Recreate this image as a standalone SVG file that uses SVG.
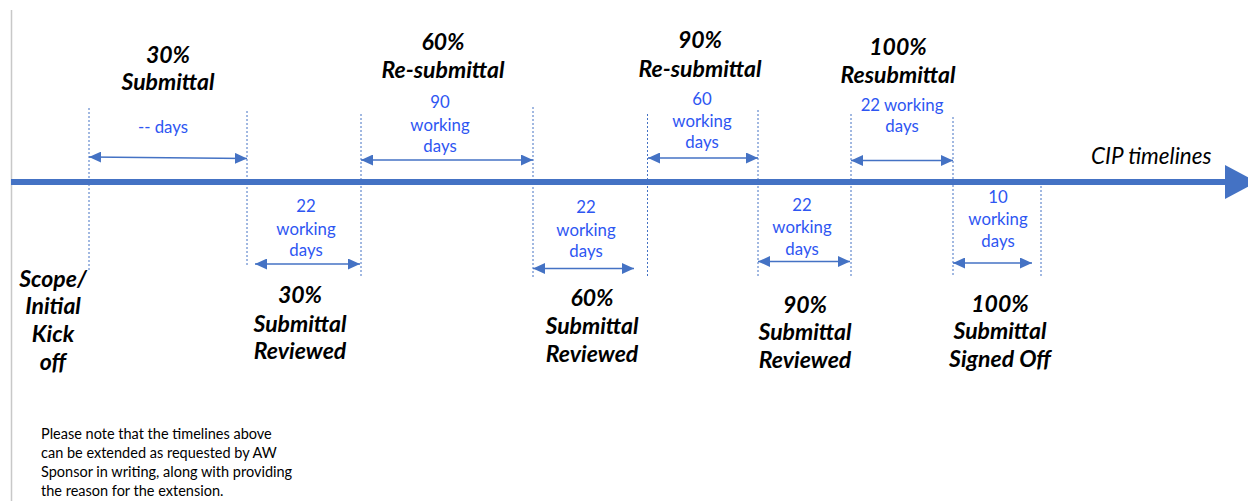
<svg xmlns="http://www.w3.org/2000/svg" width="1248" height="501" viewBox="0 0 1248 501">
<style>
.lbl{font-family:Lato,"Liberation Sans",sans-serif;font-weight:bold;font-style:italic;font-size:23px;fill:#000;text-anchor:middle}
.dur{font-family:Lato,"Liberation Sans",sans-serif;font-size:16.8px;fill:#2E56F2;text-anchor:middle}
.cip{font-family:Lato,"Liberation Sans",sans-serif;font-style:italic;font-size:22.5px;fill:#000}
.note{font-family:Lato,"Liberation Sans",sans-serif;font-size:14.5px;fill:#000}
.dash{stroke:#4472C4;stroke-width:1;stroke-dasharray:2 2;fill:none}
.span{stroke:#4472C4;stroke-width:1.5;fill:none;marker-start:url(#ah);marker-end:url(#ah)}
</style>
<defs>
<marker id="ah" markerWidth="12" markerHeight="11" refX="12" refY="5.5" orient="auto-start-reverse" markerUnits="userSpaceOnUse">
<path d="M0,0 L12,5.5 L0,11 z" fill="#4472C4"/>
</marker>
</defs>
<rect width="1248" height="501" fill="#fff"/>
<line x1="11.5" y1="10" x2="11.5" y2="501" stroke="#C8C8C8" stroke-width="1.5"/>
<g id="axis">
<line x1="11" y1="182" x2="1227" y2="182" stroke="#4472C4" stroke-width="6"/>
<path d="M1225,165 L1257,182 L1225,199 z" fill="#4472C4"/>
<text class="cip" x="1091" y="164">CIP timelines</text>
</g>
<g id="connectors">
<line class="dash" x1="89" y1="108" x2="89" y2="270"/>
<line class="dash" x1="247" y1="111" x2="247" y2="265"/>
<line class="dash" x1="361" y1="114" x2="361" y2="277"/>
<line class="dash" x1="533" y1="107" x2="533" y2="277"/>
<line class="dash" x1="647.5" y1="114" x2="647.5" y2="277"/>
<line class="dash" x1="758" y1="110" x2="758" y2="277"/>
<line class="dash" x1="851" y1="114" x2="851" y2="277"/>
<line class="dash" x1="953" y1="117" x2="953" y2="275"/>
<line class="dash" x1="1041" y1="182" x2="1041" y2="276"/>
<line class="span" x1="89" y1="157" x2="247" y2="158.5"/>
<line class="span" x1="361" y1="160" x2="533" y2="160"/>
<line class="span" x1="648" y1="158" x2="758" y2="158"/>
<line class="span" x1="851" y1="160.5" x2="953" y2="160.5"/>
<line class="span" x1="255" y1="264" x2="360" y2="264"/>
<line class="span" x1="533" y1="268.5" x2="634" y2="268.5"/>
<line class="span" x1="758" y1="261.5" x2="850" y2="261.5"/>
<line class="span" x1="953" y1="263" x2="1032" y2="263"/>
</g>
<g id="m30">
<text class="lbl" x="168" y="63">30%</text>
<text class="lbl" x="168" y="90">Submittal</text>
</g>
<g id="d30"><text class="dur" x="163" y="133">-- days</text></g>
<g id="m60">
<text class="lbl" x="443" y="50">60%</text>
<text class="lbl" x="443" y="78">Re-submittal</text>
</g>
<g id="d60"><text class="dur" x="440" y="108">90</text><text class="dur" x="440" y="131">working</text><text class="dur" x="440" y="152">days</text></g>
<g id="m90">
<text class="lbl" x="700" y="48">90%</text>
<text class="lbl" x="700" y="77">Re-submittal</text>
</g>
<g id="d90"><text class="dur" x="702" y="105">60</text><text class="dur" x="702" y="127">working</text><text class="dur" x="702" y="148">days</text></g>
<g id="m100">
<text class="lbl" x="898" y="55">100%</text>
<text class="lbl" x="898" y="83">Resubmittal</text>
</g>
<g id="d100"><text class="dur" x="902" y="111">22 working</text><text class="dur" x="902" y="132">days</text></g>
<g id="kick">
<text class="lbl" x="53" y="287">Scope/</text>
<text class="lbl" x="53" y="314">Initial</text>
<text class="lbl" x="53" y="342">Kick</text>
<text class="lbl" x="53" y="370">off</text>
</g>
<g id="r30d"><text class="dur" x="306" y="212">22</text><text class="dur" x="306" y="235">working</text><text class="dur" x="306" y="256">days</text></g>
<g id="r30">
<text class="lbl" x="300" y="303">30%</text>
<text class="lbl" x="300" y="332">Submittal</text>
<text class="lbl" x="300" y="359">Reviewed</text>
</g>
<g id="r60d"><text class="dur" x="586" y="213">22</text><text class="dur" x="586" y="236">working</text><text class="dur" x="586" y="257">days</text></g>
<g id="r60">
<text class="lbl" x="592" y="306">60%</text>
<text class="lbl" x="592" y="334">Submittal</text>
<text class="lbl" x="592" y="362">Reviewed</text>
</g>
<g id="r90d"><text class="dur" x="802" y="211">22</text><text class="dur" x="802" y="233">working</text><text class="dur" x="802" y="255">days</text></g>
<g id="r90">
<text class="lbl" x="805" y="313">90%</text>
<text class="lbl" x="805" y="340">Submittal</text>
<text class="lbl" x="805" y="368">Reviewed</text>
</g>
<g id="r100d"><text class="dur" x="998" y="203">10</text><text class="dur" x="998" y="225">working</text><text class="dur" x="998" y="247">days</text></g>
<g id="r100">
<text class="lbl" x="1000" y="312">100%</text>
<text class="lbl" x="1000" y="339">Submittal</text>
<text class="lbl" x="1000" y="367">Signed Off</text>
</g>
<g id="note">
<text class="note" x="41" y="439">Please note that the timelines above</text>
<text class="note" x="41" y="458">can be extended as requested by AW</text>
<text class="note" x="41" y="477">Sponsor in writing, along with providing</text>
<text class="note" x="41" y="496">the reason for the extension.</text>
</g>
</svg>
